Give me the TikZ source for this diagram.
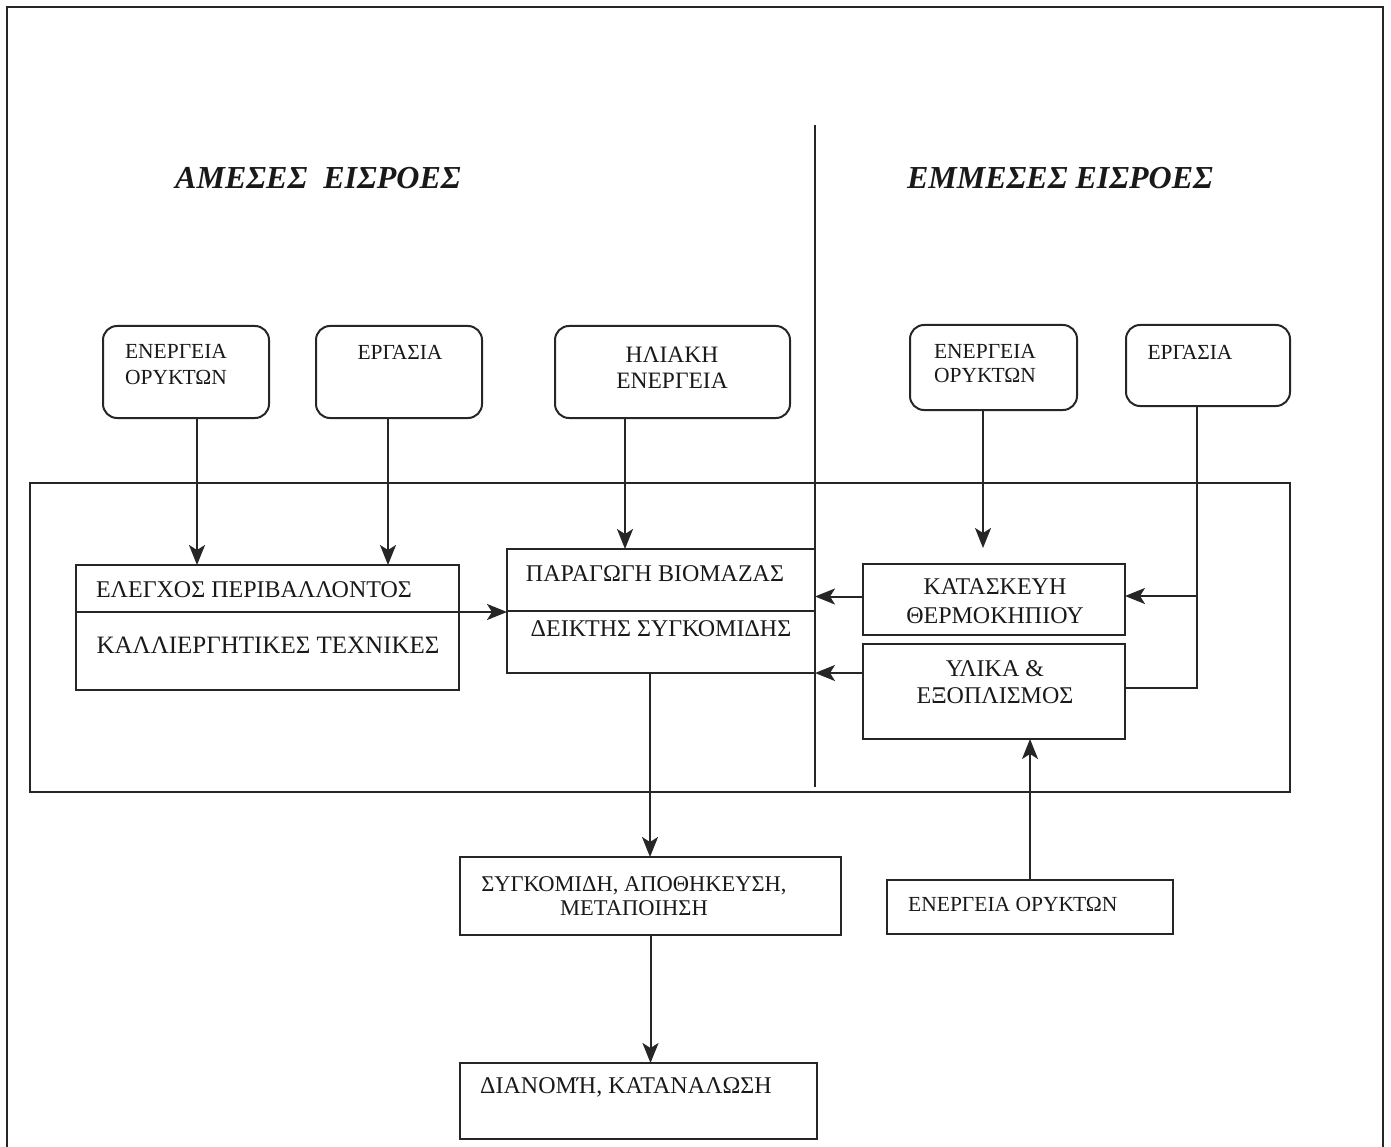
\documentclass[tikz,border=0pt]{standalone}
\usepackage{fontspec}
\setmainfont{Liberation Serif}
\usetikzlibrary{arrows.meta}
\begin{document}
\begin{tikzpicture}[x=1pt,y=-1pt,
  ln/.style={draw=black!85, line width=2pt},
  box/.style={draw=black!85, line width=2pt, anchor=north west, inner sep=0pt, outer sep=0pt},
  rbox/.style={box, rounded corners=14pt},
  arr/.style={ln, -{Stealth[length=20pt,width=16pt,inset=5pt]}},
  lbl/.style={inner sep=0pt, align=center, text=black!90, font=\fontsize{24}{28}\selectfont},
  slbl/.style={inner sep=0pt, align=center, text=black!90, font=\fontsize{21.5}{26}\selectfont},
  ttl/.style={inner sep=0pt, text=black!90, font=\fontsize{32}{36}\selectfont\bfseries\itshape}]
\useasboundingbox (0,0) rectangle (1391,1147);
% outer frame (three sides visible)
\draw[ln] (7,1160) -- (7,7) -- (1383,7) -- (1383,1160);
% titles
\node[ttl] (t1) at (318,178) {ΑΜΕΣΕΣ\ \ ΕΙΣΡΟΕΣ};
\node[ttl] (t2) at (1060,178) {ΕΜΜΕΣΕΣ ΕΙΣΡΟΕΣ};
% inner frame
\node[box, minimum width=1260pt, minimum height=309pt] (inner) at (30,483) {};
% divider
\coordinate (dtop) at (815,125);
\coordinate (dbot) at (815,787);
\draw[ln] (dtop) -- (dbot);
% top rounded boxes
\node[rbox, minimum width=166pt, minimum height=92pt] (b1) at (103,326) {};
\node[rbox, minimum width=166pt, minimum height=92pt] (b2) at (316,326) {};
\node[rbox, minimum width=235pt, minimum height=92pt] (b3) at (555,326) {};
\node[rbox, minimum width=167pt, minimum height=85pt] (b4) at (910,325) {};
\node[rbox, minimum width=164pt, minimum height=81pt] (b5) at (1126,325) {};
\node[slbl] (l1) at (176,365) {ΕΝΕΡΓΕΙΑ\\ΟΡΥΚΤΩΝ};
\node[slbl] (l2) at (400,352) {ΕΡΓΑΣΙΑ};
\node[lbl, font=\fontsize{23.5}{26}\selectfont] (l3) at (672,368) {ΗΛΙΑΚΗ\\ΕΝΕΡΓΕΙΑ};
\node[slbl, font=\fontsize{21.5}{24}\selectfont] (l4) at (985,364) {ΕΝΕΡΓΕΙΑ\\ΟΡΥΚΤΩΝ};
\node[slbl] (l5) at (1190,352) {ΕΡΓΑΣΙΑ};
% inner boxes
\node[box, minimum width=383pt, minimum height=125pt] (el) at (76,565) {};
\draw[ln] (76,612) coordinate (eld1) -- (459,612) coordinate (eld2);
\node[lbl] (lel1) at (254,590) {ΕΛΕΓΧΟΣ ΠΕΡΙΒΑΛΛΟΝΤΟΣ};
\node[lbl, font=\fontsize{25}{28}\selectfont] (lel2) at (268,645) {ΚΑΛΛΙΕΡΓΗΤΙΚΕΣ ΤΕΧΝΙΚΕΣ};
\node[box, minimum width=308pt, minimum height=124pt] (pa) at (507,549) {};
\draw[ln] (507,611) coordinate (pad1) -- (815,611) coordinate (pad2);
\node[lbl] (lpa1) at (655,574) {ΠΑΡΑΓΩΓΗ ΒΙΟΜΑΖΑΣ};
\node[lbl] (lpa2) at (661,629) {ΔΕΙΚΤΗΣ ΣΥΓΚΟΜΙΔΗΣ};
\node[box, minimum width=262pt, minimum height=71pt] (ka) at (863,564) {};
\node[lbl, font=\fontsize{24}{29}\selectfont] (lka) at (995,601) {ΚΑΤΑΣΚΕΥΗ\\ΘΕΡΜΟΚΗΠΙΟΥ};
\node[box, minimum width=262pt, minimum height=95pt] (yl) at (863,644) {};
\node[lbl, font=\fontsize{24}{27}\selectfont] (lyl) at (995,682) {ΥΛΙΚΑ \&\\ΕΞΟΠΛΙΣΜΟΣ};
% lower boxes
\node[box, minimum width=381pt, minimum height=78pt] (sy) at (460,857) {};
\node[slbl, font=\fontsize{22.5}{24}\selectfont] (lsy) at (634,896) {ΣΥΓΚΟΜΙΔΗ, ΑΠΟΘΗΚΕΥΣΗ,\\ΜΕΤΑΠΟΙΗΣΗ};
\node[box, minimum width=357pt, minimum height=76pt] (di) at (460,1063) {};
\node[slbl, anchor=west, font=\fontsize{24}{26}\selectfont] (ldi) at (480,1087) {ΔΙΑΝΟΜΉ, ΚΑΤΑΝΑΛΩΣΗ};
\node[box, minimum width=286pt, minimum height=54pt] (en) at (887,880) {};
\node[slbl, anchor=west, font=\fontsize{21.5}{24}\selectfont] (len) at (908,904) {ΕΝΕΡΓΕΙΑ ΟΡΥΚΤΩΝ};
% connectors
\draw[arr] ([xshift=11pt]b1.south) -- ([xshift=11pt]b1.south |- el.north);
\draw[arr] ([xshift=-11pt]b2.south) -- ([xshift=-11pt]b2.south |- el.north);
\draw[arr] ([xshift=-47.5pt]b3.south) -- ([xshift=-47.5pt]b3.south |- pa.north);
\draw[arr] ([xshift=-10.5pt]b4.south) -- ([xshift=-10.5pt,yshift=16pt]b4.south |- ka.north);
\draw[ln] ([xshift=-11pt]b5.south) -- ([xshift=-11pt,yshift=3.5pt]b5.south |- yl.east) -- ([yshift=3.5pt]yl.east);
\draw[arr] ([xshift=-11pt,yshift=3.5pt]b5.south |- ka.east) -- ([yshift=3.5pt]ka.east);
\draw[arr] ([yshift=15.5pt]el.east) -- ([yshift=15.5pt]el.east -| pa.west);
\draw[arr] ([yshift=3pt]ka.west) -- ([yshift=3pt]ka.west -| pa.east);
\draw[arr] ([yshift=18.5pt]yl.west) -- ([yshift=18.5pt]yl.west -| pa.east);
\draw[arr] ([xshift=-11pt]pa.south) -- ([xshift=-11pt]pa.south |- sy.north);
\draw[arr] (sy.south) -- (sy.south |- di.north);
\draw[arr] (en.north) -- (en.north |- yl.south);
\end{tikzpicture}
\end{document}
